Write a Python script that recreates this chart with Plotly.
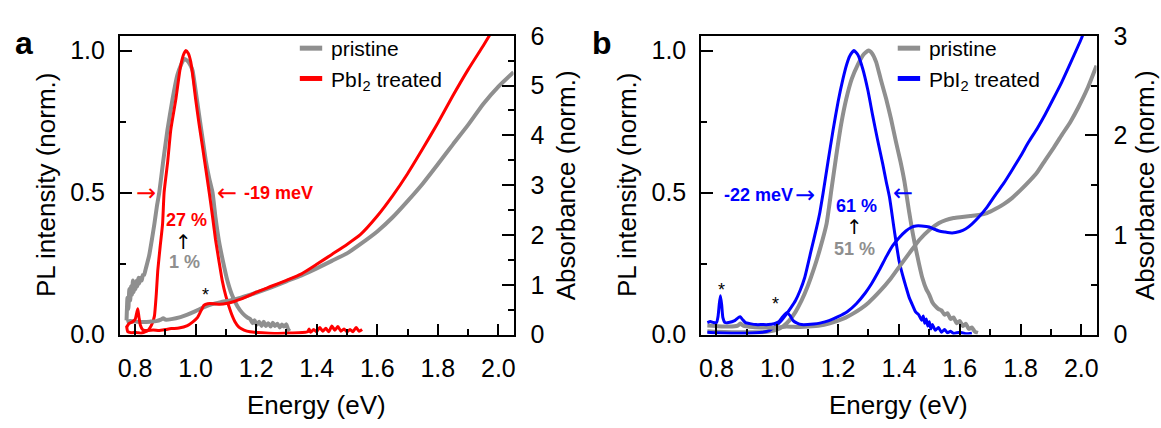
import plotly.graph_objects as go

FONT = "Liberation Sans, Arial, sans-serif"
ARROW_FONT = "DejaVu Sans, sans-serif"
GRAY = "#8f8f8f"
RED = "#ff0000"
BLUE = "#0000ff"

# ---------------- Panel a ----------------
E_a_pl_pri = [0.772, 0.775, 0.778, 0.781, 0.784, 0.787, 0.790, 0.793, 0.796, 0.799, 0.802, 0.805, 0.808,
              0.811, 0.814, 0.818, 0.822, 0.826, 0.830, 0.835, 0.840, 0.847, 0.855, 0.864, 0.872, 0.880,
              0.893, 0.907, 0.924, 0.940, 0.952, 0.962, 0.972, 0.982, 0.990, 1.000, 1.012, 1.023, 1.034,
              1.045, 1.056, 1.066, 1.077, 1.090, 1.105, 1.120, 1.138, 1.155, 1.171, 1.180, 1.188, 1.195,
              1.202, 1.210, 1.218, 1.225, 1.232, 1.240, 1.248, 1.255, 1.262, 1.270, 1.278, 1.285, 1.292,
              1.300, 1.305, 1.310]
PL_a_pri = [0.05, 0.13, 0.09, 0.16, 0.12, 0.17, 0.14, 0.19, 0.15, 0.18, 0.16, 0.19, 0.17,
            0.20, 0.18, 0.20, 0.19, 0.21, 0.21, 0.23, 0.25, 0.28, 0.33, 0.39, 0.45, 0.50,
            0.61, 0.72, 0.83, 0.915, 0.95, 0.97, 0.965, 0.95, 0.93, 0.86, 0.77, 0.69, 0.61,
            0.55, 0.50, 0.41, 0.33, 0.26, 0.19, 0.14, 0.10, 0.075, 0.06, 0.055, 0.04, 0.05,
            0.035, 0.045, 0.03, 0.045, 0.03, 0.04, 0.028, 0.042, 0.03, 0.038, 0.025, 0.035, 0.028,
            0.036, 0.02, 0.012]

E_a_pl_trt = [0.772, 0.776, 0.782, 0.790, 0.800, 0.810, 0.820, 0.830, 0.840, 0.850, 0.857, 0.864, 0.870,
              0.875, 0.883, 0.891, 0.896, 0.908, 0.918, 0.935, 0.949, 0.960, 0.968, 0.976, 0.984, 0.992,
              1.000, 1.011, 1.023, 1.034, 1.045, 1.056, 1.066, 1.077, 1.088, 1.100, 1.116, 1.130, 1.143,
              1.160, 1.180, 1.220, 1.260, 1.300, 1.340, 1.370, 1.375, 1.380, 1.390, 1.400, 1.410, 1.420,
              1.430, 1.440, 1.450, 1.460, 1.470, 1.480, 1.490, 1.500, 1.510, 1.520, 1.530, 1.540, 1.550]
PL_a_trt = [0.03, 0.01, 0.008, 0.006, 0.008, 0.006, 0.005, 0.008, 0.012, 0.025, 0.04, 0.065, 0.14,
            0.224, 0.31, 0.39, 0.50, 0.61, 0.72, 0.83, 0.936, 0.985, 1.0, 0.99, 0.96, 0.90,
            0.83, 0.745, 0.66, 0.58, 0.50, 0.415, 0.333, 0.26, 0.19, 0.135, 0.08, 0.045, 0.026,
            0.016, 0.01, 0.006, 0.004, 0.005, 0.006, 0.01, 0.02, 0.008, 0.018, 0.01, 0.025, 0.012,
            0.022, 0.01, 0.03, 0.015, 0.028, 0.012, 0.02, 0.01, 0.018, 0.01, 0.025, 0.012, 0.018]

E_a_abs_pri = [0.772, 0.785, 0.800, 0.820, 0.850, 0.870, 0.885, 0.893, 0.900, 0.920, 0.950, 0.973, 1.000,
               1.028, 1.055, 1.083, 1.117, 1.150, 1.200, 1.250, 1.300, 1.350, 1.400, 1.450, 1.500, 1.543,
               1.600, 1.650, 1.700, 1.750, 1.800, 1.850, 1.900, 1.950, 2.000, 2.050]
ABS_a_pri = [0.25, 0.27, 0.26, 0.25, 0.26, 0.27, 0.30, 0.33, 0.30, 0.31, 0.35, 0.40, 0.47,
             0.55, 0.61, 0.65, 0.69, 0.74, 0.84, 0.95, 1.07, 1.19, 1.33, 1.48, 1.63, 1.81,
             2.07, 2.35, 2.68, 3.03, 3.42, 3.82, 4.21, 4.63, 4.98, 5.27]

E_a_abs_trt = [0.772, 0.780, 0.790, 0.800, 0.805, 0.809, 0.813, 0.818, 0.825, 0.840, 0.860, 0.880, 0.900,
               0.920, 0.945, 0.973, 0.990, 1.006, 1.018, 1.028, 1.040, 1.061, 1.080, 1.105, 1.130, 1.149,
               1.165, 1.180, 1.200, 1.250, 1.300, 1.350, 1.400, 1.450, 1.500, 1.543, 1.600, 1.650, 1.700,
               1.750, 1.800, 1.850, 1.900, 1.950, 1.970, 2.000]
ABS_a_trt = [0.15, 0.22, 0.25, 0.30, 0.42, 0.52, 0.35, 0.18, 0.10, 0.08, 0.09, 0.08, 0.10,
             0.12, 0.13, 0.18, 0.25, 0.34, 0.48, 0.59, 0.62, 0.62, 0.61, 0.63, 0.67, 0.71,
             0.75, 0.79, 0.85, 0.97, 1.09, 1.22, 1.41, 1.61, 1.81, 2.00, 2.38, 2.78, 3.23,
             3.73, 4.25, 4.80, 5.32, 5.80, 6.00, 6.30]

# ---------------- Panel b ----------------
E_b_pl_pri = [0.770, 0.800, 0.850, 0.900, 0.950, 0.980, 1.000, 1.020, 1.040, 1.060, 1.080, 1.100, 1.120,
              1.140, 1.162, 1.178, 1.194, 1.210, 1.227, 1.245, 1.265, 1.283, 1.300, 1.312, 1.325, 1.340,
              1.358, 1.374, 1.390, 1.405, 1.418, 1.434, 1.445, 1.456, 1.466, 1.477, 1.490, 1.500, 1.510,
              1.520, 1.530, 1.540, 1.550, 1.560, 1.570, 1.580, 1.590, 1.600, 1.610, 1.620, 1.630, 1.640,
              1.650, 1.660]
PL_b_pri = [0.012, 0.010, 0.008, 0.008, 0.008, 0.012, 0.018, 0.03, 0.05, 0.08, 0.12, 0.17, 0.23,
            0.30, 0.39, 0.51, 0.63, 0.74, 0.83, 0.90, 0.95, 0.985, 1.0, 0.99, 0.96, 0.90,
            0.83, 0.76, 0.68, 0.61, 0.54, 0.43, 0.36, 0.30, 0.25, 0.20, 0.16, 0.14, 0.114,
            0.10, 0.09, 0.085, 0.07, 0.075, 0.055, 0.06, 0.04, 0.048, 0.03, 0.038, 0.02, 0.025,
            0.01, 0.006]

E_b_pl_trt = [0.770, 0.800, 0.850, 0.900, 0.950, 0.975, 0.990, 1.010, 1.025, 1.045, 1.060, 1.075, 1.090,
              1.110, 1.130, 1.140, 1.151, 1.167, 1.183, 1.200, 1.216, 1.228, 1.238, 1.252, 1.265, 1.281,
              1.298, 1.314, 1.330, 1.347, 1.358, 1.369, 1.385, 1.401, 1.412, 1.423, 1.434, 1.445, 1.455,
              1.465, 1.475, 1.480, 1.485, 1.490, 1.495, 1.500, 1.505, 1.510, 1.520, 1.530, 1.540, 1.550,
              1.560, 1.570, 1.580, 1.600, 1.620, 1.640]
PL_b_trt = [0.008, 0.006, 0.005, 0.005, 0.008, 0.015, 0.026, 0.045, 0.065, 0.095, 0.12, 0.155, 0.20,
            0.29, 0.38, 0.43, 0.50, 0.61, 0.717, 0.82, 0.90, 0.95, 0.98, 1.0, 0.985, 0.936,
            0.86, 0.77, 0.685, 0.60, 0.54, 0.484, 0.366, 0.257, 0.21, 0.169, 0.13, 0.103, 0.08,
            0.07, 0.05, 0.065, 0.04, 0.055, 0.03, 0.045, 0.02, 0.035, 0.015, 0.025, 0.008, 0.018,
            0.006, 0.012, 0.004, 0.008, 0.003, 0.005]

E_b_abs_pri = [0.770, 0.800, 0.840, 0.870, 0.878, 0.888, 0.920, 0.960, 1.000, 1.030, 1.070, 1.100, 1.140,
               1.170, 1.200, 1.225, 1.249, 1.275, 1.300, 1.336, 1.370, 1.401, 1.435, 1.467, 1.500, 1.532,
               1.554, 1.580, 1.608, 1.635, 1.663, 1.690, 1.717, 1.745, 1.772, 1.800, 1.826, 1.855, 1.881,
               1.910, 1.935, 1.965, 1.990, 2.020, 2.050]
ABS_b_pri = [0.09, 0.085, 0.08, 0.09, 0.11, 0.09, 0.075, 0.07, 0.07, 0.08, 0.075, 0.08, 0.09,
             0.11, 0.14, 0.17, 0.21, 0.26, 0.32, 0.43, 0.55, 0.68, 0.82, 0.95, 1.05, 1.12,
             1.15, 1.17, 1.18, 1.19, 1.20, 1.22, 1.26, 1.31, 1.37, 1.45, 1.53, 1.63, 1.75,
             1.88, 2.00, 2.14, 2.28, 2.47, 2.70]

E_b_abs_trt = [0.770, 0.780, 0.790, 0.800, 0.805, 0.809, 0.813, 0.817, 0.821, 0.828, 0.840, 0.860, 0.872,
               0.878, 0.886, 0.895, 0.910, 0.930, 0.950, 0.970, 0.990, 1.005, 1.018, 1.031, 1.042, 1.052,
               1.065, 1.080, 1.100, 1.120, 1.140, 1.170, 1.200, 1.230, 1.260, 1.290, 1.310, 1.336, 1.360,
               1.379, 1.400, 1.423, 1.440, 1.456, 1.475, 1.500, 1.515, 1.532, 1.550, 1.575, 1.600, 1.619,
               1.640, 1.663, 1.690, 1.717, 1.745, 1.772, 1.800, 1.826, 1.855, 1.881, 1.910, 1.935, 1.965,
               2.000, 2.010]
ABS_b_trt = [0.12, 0.13, 0.12, 0.12, 0.18, 0.30, 0.39, 0.30, 0.17, 0.12, 0.12, 0.14, 0.17,
             0.18, 0.15, 0.12, 0.11, 0.10, 0.10, 0.10, 0.11, 0.13, 0.18, 0.22, 0.19, 0.14,
             0.115, 0.10, 0.10, 0.105, 0.115, 0.14, 0.18, 0.23, 0.31, 0.42, 0.51, 0.65, 0.79,
             0.89, 0.97, 1.04, 1.075, 1.09, 1.09, 1.08, 1.06, 1.04, 1.03, 1.02, 1.035, 1.06,
             1.11, 1.18, 1.28, 1.40, 1.52, 1.65, 1.79, 1.93, 2.07, 2.21, 2.38, 2.53, 2.73,
             2.97, 3.05]

X_TICKS = [0.8, 1.0, 1.2, 1.4, 1.6, 1.8, 2.0]
X_TICK_TEXT = ["0.8", "1.0", "1.2", "1.4", "1.6", "1.8", "2.0"]
PL_TICKS = [0.0, 0.5, 1.0]
PL_TICK_TEXT = ["0.0", "0.5", "1.0"]

fig = go.Figure()

def line(x, y, color, width, xa, ya):
    fig.add_trace(go.Scatter(x=x, y=y, mode="lines", xaxis=xa, yaxis=ya,
                             line=dict(color=color, width=width, shape="spline", smoothing=0.5),
                             showlegend=False, hoverinfo="skip"))

# panel a (gray below red)
line(E_a_abs_pri, ABS_a_pri, GRAY, 4, "x", "y2")
line(E_a_pl_pri, PL_a_pri, GRAY, 4, "x", "y")
line(E_a_abs_trt, ABS_a_trt, RED, 3, "x", "y2")
line(E_a_pl_trt, PL_a_trt, RED, 3, "x", "y")
# panel b
line(E_b_abs_pri, ABS_b_pri, GRAY, 4, "x2", "y4")
line(E_b_pl_pri, PL_b_pri, GRAY, 4, "x2", "y3")
line(E_b_abs_trt, ABS_b_trt, BLUE, 3, "x2", "y4")
line(E_b_pl_trt, PL_b_trt, BLUE, 3, "x2", "y3")

# legend entries
def legend_entry(name, color, leg, xa, ya):
    fig.add_trace(go.Scatter(x=[None], y=[None], mode="markers", xaxis=xa, yaxis=ya, name=name,
                             legend=leg,
                             marker=dict(symbol="line-ew", size=16, color=color,
                                         line=dict(width=5, color=color))))

legend_entry("pristine", GRAY, "legend", "x", "y")
legend_entry("PbI<sub>2</sub> treated", RED, "legend", "x", "y")
legend_entry("pristine", GRAY, "legend2", "x2", "y3")
legend_entry("PbI<sub>2</sub> treated", BLUE, "legend2", "x2", "y3")

W, H = 1161, 428
XA_DOM = [118.3 / W, 513.3 / W]
XB_DOM = [701.7 / W, 1098.3 / W]
Y_DOM = [(H - 343) / H, (H - 23.3) / H]

tickfont = dict(family=FONT, size=25, color="black")

def xaxis(domain, anchor):
    return dict(domain=domain, anchor=anchor, range=[0.75, 2.05], tickvals=X_TICKS, ticktext=X_TICK_TEXT,
                ticks="inside", ticklen=11, tickwidth=2, tickcolor="black",
                minor=dict(dtick=0.1, tick0=0.8, ticks="inside", ticklen=6, tickwidth=2, tickcolor="black"),
                showline=True, linewidth=2, linecolor="black", mirror=True,
                showgrid=False, zeroline=False, tickfont=tickfont, ticklabelstandoff=10)

def yleft(anchor):
    return dict(domain=Y_DOM, anchor=anchor, range=[0, 1.052], tickvals=PL_TICKS, ticktext=PL_TICK_TEXT,
                ticks="inside", ticklen=12, tickwidth=2, tickcolor="black",
                minor=dict(tickvals=[0.25, 0.75], ticks="inside", ticklen=6, tickwidth=2, tickcolor="black"),
                showline=True, linewidth=2, linecolor="black", mirror=False,
                showgrid=False, zeroline=False, tickfont=tickfont, ticklabelstandoff=8)

def yright(anchor, over, top):
    return dict(anchor=anchor, overlaying=over, side="right", range=[0, top], dtick=1, tick0=0,
                ticks="inside", ticklen=12, tickwidth=2, tickcolor="black",
                minor=dict(dtick=0.5, tick0=0, ticks="inside", ticklen=6, tickwidth=2, tickcolor="black"),
                showline=True, linewidth=2, linecolor="black",
                showgrid=False, zeroline=False, tickfont=tickfont, ticklabelstandoff=10)


def txt(text, x, y, xref, yref, color="black", size=18, bold=False, xanchor="center", angle=0, family=FONT):
    t = f"<b>{text}</b>" if bold else text
    return dict(text=t, x=x, y=y, xref=xref, yref=yref, showarrow=False, xanchor=xanchor,
                yanchor="middle", textangle=angle, font=dict(family=family, size=size, color=color))

annotations = [
    # panel letters
    txt("a", 22 / W, (H - 31) / H, "paper", "paper", size=32, bold=True),
    txt("b", 602 / W, (H - 31) / H, "paper", "paper", size=32, bold=True),
    # axis titles
    txt("Energy (eV)", 0.5, (H - 418) / H, "x domain", "paper", size=26),
    txt("Energy (eV)", 0.5, (H - 418) / H, "x2 domain", "paper", size=26),
    txt("PL intensity (norm.)", 44 / W, 0.5, "paper", "y domain", size=26, angle=-90),
    txt("PL intensity (norm.)", 627 / W, 0.5, "paper", "y3 domain", size=26, angle=-90),
    txt("Absorbance (norm.)", 566 / W, 0.5, "paper", "y domain", size=26, angle=-90),
    txt("Absorbance (norm.)", 1147 / W, 0.5, "paper", "y3 domain", size=26, angle=-90),
    # panel a annotations
    txt("→", 0.836, 0.5, "x", "y", color=RED, size=24, family=ARROW_FONT),
    txt("←", 1.105, 0.5, "x", "y", color=RED, size=24, family=ARROW_FONT),
    txt("-19 meV", 1.152, 0.5, "x", "y", color=RED, bold=True, xanchor="left"),
    txt("27 %", 0.970, 0.405, "x", "y", color=RED, bold=True),
    txt("↑", 0.960, 0.326, "x", "y", size=20, family=ARROW_FONT),
    txt("1 %", 0.964, 0.254, "x", "y", color=GRAY, bold=True),
    txt("*", 1.034, 0.141, "x", "y", size=18),
    # panel b annotations
    txt("-22 meV", 0.819, 0.49, "x2", "y3", color=BLUE, bold=True, xanchor="left"),
    txt("→", 1.091, 0.49, "x2", "y3", color=BLUE, size=24, family=ARROW_FONT),
    txt("←", 1.412, 0.498, "x2", "y3", color=BLUE, size=24, family=ARROW_FONT),
    txt("61 %", 1.26, 0.454, "x2", "y3", color=BLUE, bold=True),
    txt("↑", 1.254, 0.377, "x2", "y3", size=20, family=ARROW_FONT),
    txt("51 %", 1.254, 0.30, "x2", "y3", color=GRAY, bold=True),
    txt("*", 0.816, 0.158, "x2", "y3", size=18),
    txt("*", 0.995, 0.108, "x2", "y3", size=18),
]

leg_common = dict(xanchor="left", yanchor="top", bgcolor="rgba(0,0,0,0)", borderwidth=0,
                  font=dict(family=FONT, size=21, color="black"), itemwidth=30, tracegroupgap=0)

fig.update_layout(
    width=W, height=H, margin=dict(l=0, r=0, t=0, b=0),
    paper_bgcolor="white", plot_bgcolor="white",
    font=dict(family=FONT, color="black"),
    xaxis=xaxis(XA_DOM, "y"),
    yaxis=yleft("x"),
    yaxis2=yright("x", "y", 6),
    xaxis2=xaxis(XB_DOM, "y3"),
    yaxis3=yleft("x2"),
    yaxis4=yright("x2", "y3", 3),
    legend=dict(x=290 / W, y=(H - 15) / H, **leg_common),
    legend2=dict(x=890 / W, y=(H - 15) / H, **leg_common),
    annotations=annotations,
)

fig.write_html("out.html", config={"displayModeBar": False},
               post_script="document.body.style.margin='0px';document.body.style.overflow='hidden';")
